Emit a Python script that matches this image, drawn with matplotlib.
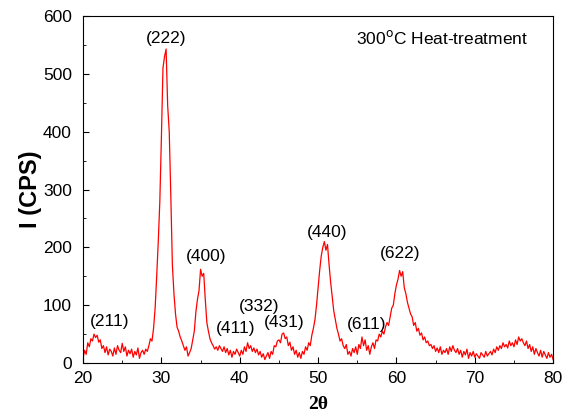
import numpy as np
import matplotlib
matplotlib.use("Agg")
from matplotlib import pyplot as plt
from matplotlib.ticker import MultipleLocator

# 2theta grid, 0.2 deg steps from 20 to 80
two_theta = np.linspace(20, 80, 301)

# intensity (CPS), 10 values per 2 degrees
intensity = [
    8, 22, 15, 35, 28, 42, 38, 50, 44, 48,
    36, 40, 25, 30, 18, 28, 14, 24, 20, 12,
    26, 15, 30, 22, 18, 34, 20, 28, 12, 22,
    16, 24, 10, 20, 14, 26, 8, 18, 22, 15,
    24, 20, 30, 42, 38, 60, 95, 150, 210, 280,
    390, 510, 530, 543, 445, 400, 290, 170, 120, 85,
    62, 55, 45, 38, 30, 22, 28, 12, 18, 25,
    40, 55, 88, 110, 125, 162, 150, 155, 110, 70,
    55, 42, 35, 30, 24, 28, 22, 30, 25, 20,
    28, 18, 25, 14, 22, 10, 20, 15, 24, 18,
    12, 22, 15, 28, 20, 35, 25, 30, 20, 26,
    18, 24, 14, 20, 10, 16, 6, 12, 18, 8,
    20, 15, 30, 28, 38, 40, 35, 50, 52, 42,
    45, 30, 36, 22, 28, 15, 22, 10, 18, 8,
    20, 15, 28, 22, 35, 30, 48, 60, 75, 100,
    130, 160, 185, 200, 210, 195, 205, 170, 140, 115,
    90, 75, 60, 50, 38, 42, 30, 25, 32, 15,
    20, 12, 25, 18, 28, 15, 32, 25, 45, 30,
    40, 22, 30, 15, 28, 35, 25, 40, 38, 50,
    45, 55, 50, 62, 70, 65, 80, 95, 100, 120,
    135, 145, 160, 150, 158, 130, 120, 105, 95, 85,
    80, 65, 70, 55, 60, 48, 52, 40, 45, 35,
    38, 30, 32, 25, 30, 20, 26, 18, 28, 15,
    22, 18, 25, 15, 28, 20, 30, 22, 18, 25,
    15, 22, 10, 20, 14, 24, 8, 18, 12, 20,
    10, 16, 12, 8, 18, 14, 10, 20, 12, 16,
    20, 14, 24, 18, 28, 22, 30, 25, 35, 28,
    32, 26, 38, 30, 35, 28, 40, 32, 45, 38,
    42, 35, 30, 38, 25, 32, 20, 28, 15, 25,
    18, 12, 22, 10, 20, 14, 8, 18, 10, 15,
    6,
]

# Miller index labels and where they sit
hkl_labels = ["(211)", "(222)", "(400)", "(411)", "(332)", "(431)", "(440)", "(611)", "(622)"]
hkl_x = [23.4, 30.6, 35.7, 39.5, 42.5, 45.7, 51.1, 56.2, 60.5]
hkl_y = [71, 562, 184, 60, 97, 70, 226, 67, 189]

plt.rcParams["font.family"] = ["Liberation Sans", "DejaVu Sans"]

fig = plt.figure(figsize=(5.65, 4.16), dpi=100)
ax = fig.add_axes([0.147, 0.1274, 0.832, 0.834])

ax.plot(two_theta, intensity, color="red", linewidth=0.9)

for lab, x, y in zip(hkl_labels, hkl_x, hkl_y):
    ax.text(x, y, lab, ha="center", va="center", fontsize=12.5)

ax.text(65.8, 562, "300$^{\\rm o}$C Heat-treatment", ha="center", va="center", fontsize=12.5)

ax.set_xlim(20, 80)
ax.set_ylim(0, 600)
ax.xaxis.set_major_locator(MultipleLocator(10))
ax.xaxis.set_minor_locator(MultipleLocator(5))
ax.yaxis.set_major_locator(MultipleLocator(100))
ax.yaxis.set_minor_locator(MultipleLocator(50))
ax.tick_params(which="both", direction="in", labelsize=12.5)
ax.tick_params(axis="x", which="major", length=4, pad=6)
ax.tick_params(axis="y", which="major", length=4, pad=8)
ax.tick_params(which="minor", length=2)

ax.set_xlabel("2θ", fontsize=14, fontweight="bold", family="Liberation Serif", labelpad=7)
ax.set_ylabel("I (CPS)", fontsize=17, fontweight="bold", labelpad=1)

fig.savefig("out.png", dpi=100)
